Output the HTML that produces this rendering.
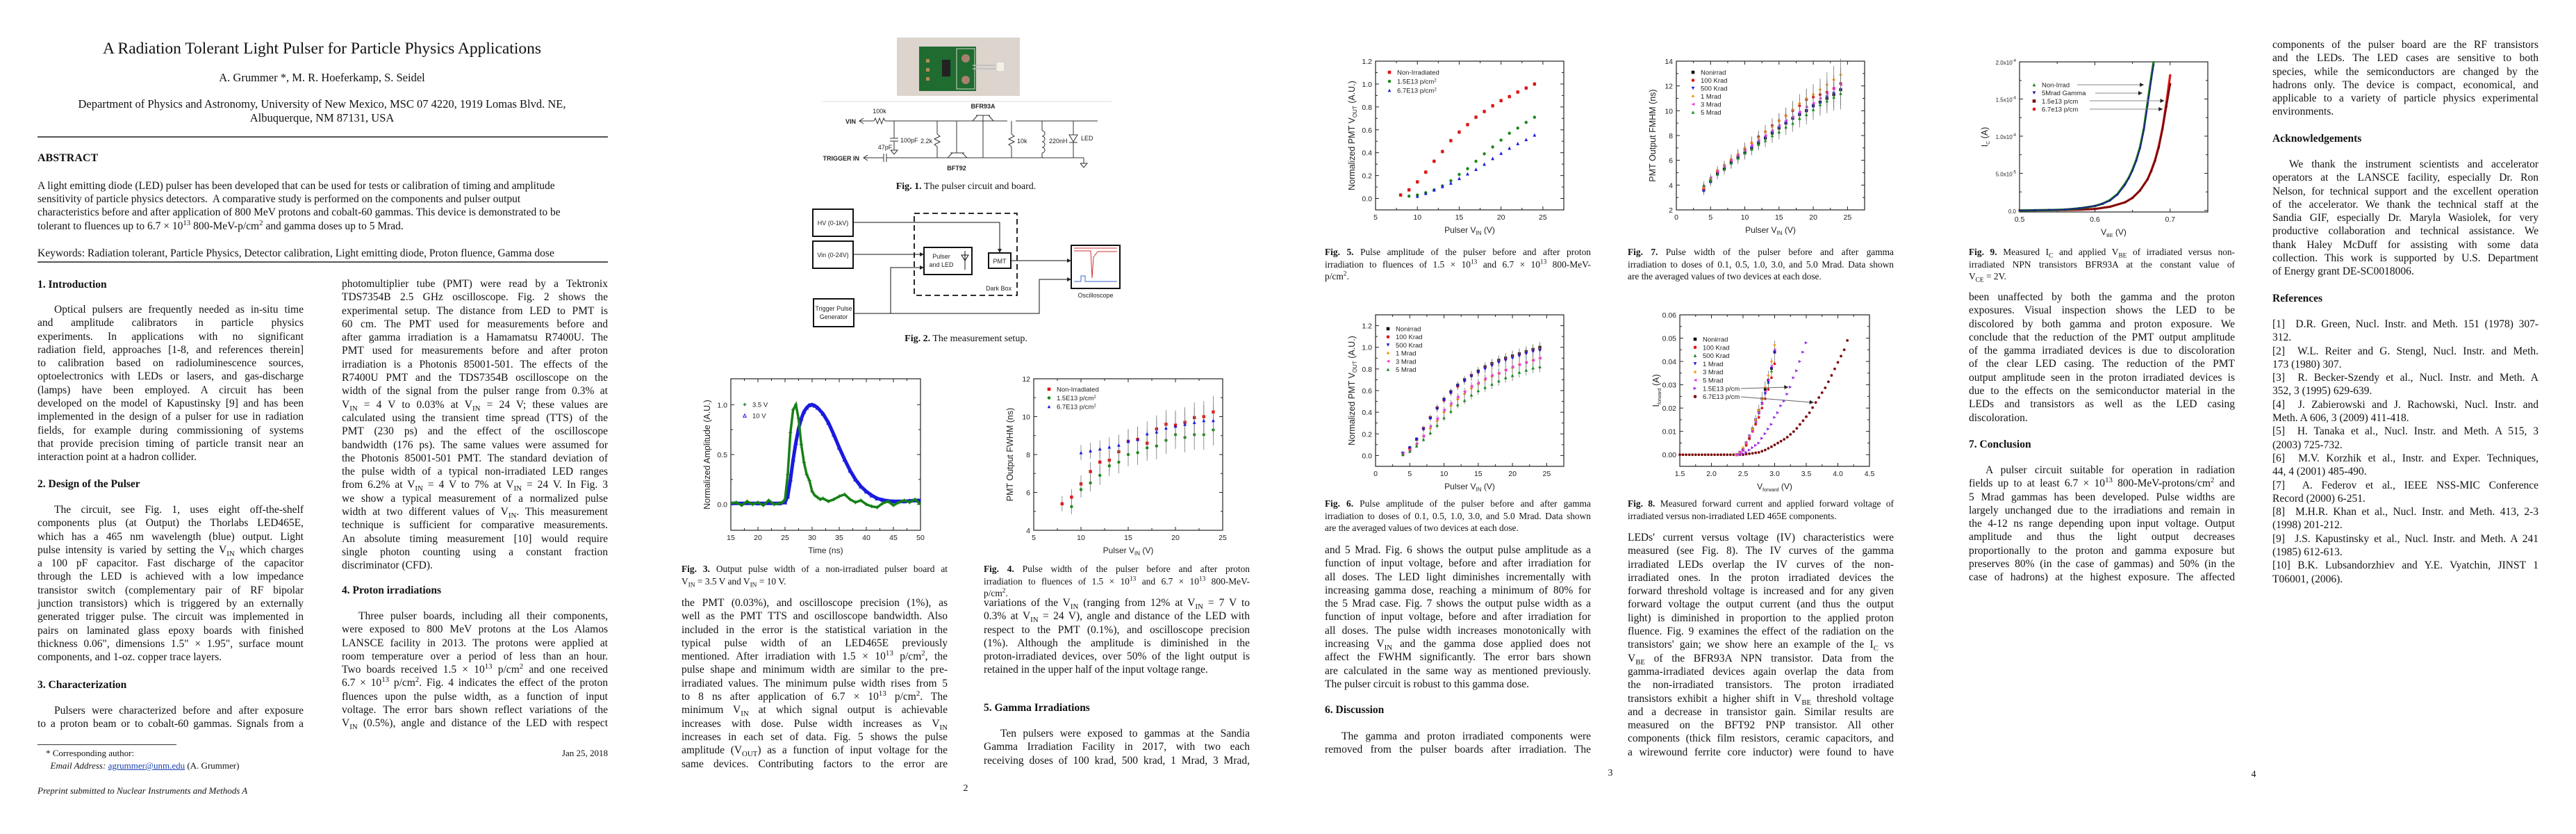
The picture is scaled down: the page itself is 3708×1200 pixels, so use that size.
<!DOCTYPE html>
<html><head><meta charset="utf-8">
<style>
html,body{margin:0;padding:0;background:#fff;}
body{width:3708px;height:1200px;position:relative;overflow:hidden;font-family:"Liberation Serif",serif;color:#111;}
.c{position:absolute;width:383px;font-size:15.5px;}
.c>div{height:19.3px;line-height:19.3px;white-space:nowrap;text-align:justify;text-align-last:justify;}
.c>div.e{text-align-last:left;}
.c>div.i{text-indent:24px;}
.h{position:absolute;font-size:15.5px;font-weight:bold;white-space:nowrap;line-height:19px;}
.cap{position:absolute;width:383px;font-size:13.4px;}
.cap>div{height:17.6px;line-height:17.6px;white-space:nowrap;text-align:justify;text-align-last:justify;}
.cap>div.e{text-align-last:left;}
.t{position:absolute;white-space:nowrap;line-height:20px;}
sub,sup{font-size:70%;line-height:0;}
.rule{position:absolute;height:2px;background:#555;}
svg{position:absolute;left:0;top:0;}
</style></head>
<body>
<div class="t" style="left:0;width:927px;text-align:center;top:56px;font-size:23.5px;line-height:28px;">A Radiation Tolerant Light Pulser for Particle Physics Applications</div>
<div class="t" style="left:0;width:927px;text-align:center;top:102px;font-size:16.5px;">A. Grummer *, M. R. Hoeferkamp, S. Seidel</div>
<div class="t" style="left:0;width:927px;text-align:center;top:140px;font-size:16.5px;">Department of Physics and Astronomy, University of New Mexico, MSC 07 4220, 1919 Lomas Blvd. NE,<br>Albuquerque, NM 87131, USA</div>
<div class="rule" style="left:54px;width:821px;top:196px;"></div>
<div class="h" style="left:54px;top:218px;font-size:16px;">ABSTRACT</div>
<div class="t" style="left:54px;top:258px;font-size:15.5px;line-height:19.2px;">A light emitting diode (LED) pulser has been developed that can be used for tests or calibration of timing and amplitude<br>sensitivity of particle physics detectors.&nbsp; A comparative study is performed on the components and pulser output<br>characteristics before and after application of 800 MeV protons and cobalt-60 gammas. This device is demonstrated to be<br>tolerant to fluences up to 6.7 × 10<sup>13</sup> 800-MeV-p/cm<sup>2</sup> and gamma doses up to 5 Mrad.</div>
<div class="t" style="left:54px;top:355px;font-size:15.5px;">Keywords: Radiation tolerant, Particle Physics, Detector calibration, Light emitting diode, Proton fluence, Gamma dose</div>
<div class="rule" style="left:54px;width:821px;top:376px;"></div>

<!-- Page 1 col 1 -->
<div class="h" style="left:54px;top:400px;">1. Introduction</div>
<div class="c" style="left:54px;top:436px;">
<div class="i">Optical pulsers are frequently needed as in-situ time</div>
<div>and amplitude calibrators in particle physics</div>
<div>experiments. In applications with no significant</div>
<div>radiation field, approaches [1-8, and references therein]</div>
<div>to calibration based on radioluminescence sources,</div>
<div>optoelectronics with LEDs or lasers, and gas-discharge</div>
<div>(lamps) have been employed. A circuit has been</div>
<div>developed on the model of Kapustinsky [9] and has been</div>
<div>implemented in the design of a pulser for use in radiation</div>
<div>fields, for example during commissioning of systems</div>
<div>that provide precision timing of particle transit near an</div>
<div class="e">interaction point at a hadron collider.</div>
</div>
<div class="h" style="left:54px;top:687px;">2. Design of the Pulser</div>
<div class="c" style="left:54px;top:724px;">
<div class="i">The circuit, see Fig. 1, uses eight off-the-shelf</div>
<div>components plus (at Output) the Thorlabs LED465E,</div>
<div>which has a 465 nm wavelength (blue) output. Light</div>
<div>pulse intensity is varied by setting the V<sub>IN</sub> which charges</div>
<div>a 100 pF capacitor. Fast discharge of the capacitor</div>
<div>through the LED is achieved with a low impedance</div>
<div>transistor switch (complementary pair of RF bipolar</div>
<div>junction transistors) which is triggered by an externally</div>
<div>generated trigger pulse. The circuit was implemented in</div>
<div>pairs on laminated glass epoxy boards with finished</div>
<div>thickness 0.06", dimensions 1.5" × 1.95", surface mount</div>
<div class="e">components, and 1-oz. copper trace layers.</div>
</div>
<div class="h" style="left:54px;top:976px;">3. Characterization</div>
<div class="c" style="left:54px;top:1013px;">
<div class="i">Pulsers were characterized before and after exposure</div>
<div>to a proton beam or to cobalt-60 gammas. Signals from a</div>
</div>
<div class="rule" style="left:54px;width:200px;top:1071px;height:1px;background:#333;"></div>
<div class="t" style="left:66px;top:1075px;font-size:13px;line-height:18px;">* Corresponding author:<br>&nbsp;&nbsp;<i>Email Address:</i> <span style="color:#1a3fb0;text-decoration:underline;">agrummer@unm.edu</span> (A. Grummer)</div>
<div class="t" style="left:775px;width:100px;text-align:right;top:1075px;font-size:13px;line-height:18px;">Jan 25, 2018</div>
<div class="t" style="left:54px;top:1129px;font-size:13px;font-style:italic;line-height:18px;">Preprint submitted to Nuclear Instruments and Methods A</div>

<!-- Page 1 col 2 -->
<div class="c" style="left:492px;top:399px;">
<div>photomultiplier tube (PMT) were read by a Tektronix</div>
<div>TDS7354B 2.5 GHz oscilloscope. Fig. 2 shows the</div>
<div>experimental setup. The distance from LED to PMT is</div>
<div>60 cm. The PMT used for measurements before and</div>
<div>after gamma irradiation is a Hamamatsu R7400U. The</div>
<div>PMT used for measurements before and after proton</div>
<div>irradiation is a Photonis 85001-501. The effects of the</div>
<div>R7400U PMT and the TDS7354B oscilloscope on the</div>
<div>width of the signal from the pulser range from 0.3% at</div>
<div>V<sub>IN</sub> = 4 V to 0.03% at V<sub>IN</sub> = 24 V; these values are</div>
<div>calculated using the transient time spread (TTS) of the</div>
<div>PMT (230 ps) and the effect of the oscilloscope</div>
<div>bandwidth (176 ps). The same values were assumed for</div>
<div>the Photonis 85001-501 PMT. The standard deviation of</div>
<div>the pulse width of a typical non-irradiated LED ranges</div>
<div>from 6.2% at V<sub>IN</sub> = 4 V to 7% at V<sub>IN</sub> = 24 V. In Fig. 3</div>
<div>we show a typical measurement of a normalized pulse</div>
<div>width at two different values of V<sub>IN</sub>. This measurement</div>
<div>technique is sufficient for comparative measurements.</div>
<div>An absolute timing measurement [10] would require</div>
<div>single photon counting using a constant fraction</div>
<div class="e">discriminator (CFD).</div>
</div>
<div class="h" style="left:492px;top:840px;">4. Proton irradiations</div>
<div class="c" style="left:492px;top:877px;">
<div class="i">Three pulser boards, including all their components,</div>
<div>were exposed to 800 MeV protons at the Los Alamos</div>
<div>LANSCE facility in 2013. The protons were applied at</div>
<div>room temperature over a period of less than an hour.</div>
<div>Two boards received 1.5 × 10<sup>13</sup> p/cm<sup>2</sup> and one received</div>
<div>6.7 × 10<sup>13</sup> p/cm<sup>2</sup>. Fig. 4 indicates the effect of the proton</div>
<div>fluences upon the pulse width, as a function of input</div>
<div>voltage. The error bars shown reflect variations of the</div>
<div>V<sub>IN</sub> (0.5%), angle and distance of the LED with respect</div>
</div>

<!-- Page 2 -->
<div class="t" style="left:927px;width:927px;text-align:center;top:259px;font-size:14px;"><b>Fig. 1.</b> The pulser circuit and board.</div>
<div class="t" style="left:927px;width:927px;text-align:center;top:478px;font-size:14px;"><b>Fig. 2.</b> The measurement setup.</div>
<div class="cap" style="left:981px;top:810px;">
<div><b>Fig. 3.</b> Output pulse width of a non-irradiated pulser board at</div>
<div class="e">V<sub>IN</sub> = 3.5 V and V<sub>IN</sub> = 10 V.</div>
</div>
<div class="cap" style="left:1416px;top:810px;">
<div><b>Fig. 4.</b> Pulse width of the pulser before and after proton</div>
<div>irradiation to fluences of 1.5 × 10<sup>13</sup> and 6.7 × 10<sup>13</sup> 800-MeV-</div>
<div class="e">p/cm<sup>2</sup>.</div>
</div>
<div class="c" style="left:981px;top:858px;">
<div>the PMT (0.03%), and oscilloscope precision (1%), as</div>
<div>well as the PMT TTS and oscilloscope bandwidth. Also</div>
<div>included in the error is the statistical variation in the</div>
<div>typical pulse width of an LED465E previously</div>
<div>mentioned. After irradiation with 1.5 × 10<sup>13</sup> p/cm<sup>2</sup>, the</div>
<div>pulse shape and minimum width are similar to the pre-</div>
<div>irradiated values. The minimum pulse width rises from 5</div>
<div>to 8 ns after application of 6.7 × 10<sup>13</sup> p/cm<sup>2</sup>. The</div>
<div>minimum V<sub>IN</sub> at which signal output is achievable</div>
<div>increases with dose. Pulse width increases as V<sub>IN</sub></div>
<div>increases in each set of data. Fig. 5 shows the pulse</div>
<div>amplitude (V<sub>OUT</sub>) as a function of input voltage for the</div>
<div>same devices. Contributing factors to the error are</div>
</div>
<div class="c" style="left:1416px;top:858px;">
<div>variations of the V<sub>IN</sub> (ranging from 12% at V<sub>IN</sub> = 7 V to</div>
<div>0.3% at V<sub>IN</sub> = 24 V), angle and distance of the LED with</div>
<div>respect to the PMT (0.1%), and oscilloscope precision</div>
<div>(1%). Although the amplitude is diminished in the</div>
<div>proton-irradiated devices, over 50% of the light output is</div>
<div class="e">retained in the upper half of the input voltage range.</div>
</div>
<div class="h" style="left:1416px;top:1009px;">5. Gamma Irradiations</div>
<div class="c" style="left:1416px;top:1046px;">
<div class="i">Ten pulsers were exposed to gammas at the Sandia</div>
<div>Gamma Irradiation Facility in 2017, with two each</div>
<div>receiving doses of 100 krad, 500 krad, 1 Mrad, 3 Mrad,</div>
</div>
<div class="t" style="left:1340px;width:100px;text-align:center;top:1125px;font-size:14px;">2</div>

<!-- Page 3 -->
<div class="cap" style="left:1907px;top:354px;">
<div><b>Fig. 5.</b> Pulse amplitude of the pulser before and after proton</div>
<div>irradiation to fluences of 1.5 × 10<sup>13</sup> and 6.7 × 10<sup>13</sup> 800-MeV-</div>
<div class="e">p/cm<sup>2</sup>.</div>
</div>
<div class="cap" style="left:2343px;top:354px;">
<div><b>Fig. 7.</b> Pulse width of the pulser before and after gamma</div>
<div>irradiation to doses of 0.1, 0.5, 1.0, 3.0, and 5.0 Mrad. Data shown</div>
<div class="e">are the averaged values of two devices at each dose.</div>
</div>
<div class="cap" style="left:1907px;top:716px;">
<div><b>Fig. 6.</b> Pulse amplitude of the pulser before and after gamma</div>
<div>irradiation to doses of 0.1, 0.5, 1.0, 3.0, and 5.0 Mrad. Data shown</div>
<div class="e">are the averaged values of two devices at each dose.</div>
</div>
<div class="cap" style="left:2343px;top:716px;">
<div><b>Fig. 8.</b> Measured forward current and applied forward voltage of</div>
<div class="e">irradiated versus non-irradiated LED 465E components.</div>
</div>
<div class="c" style="left:1907px;top:782px;">
<div>and 5 Mrad. Fig. 6 shows the output pulse amplitude as a</div>
<div>function of input voltage, before and after irradiation for</div>
<div>all doses. The LED light diminishes incrementally with</div>
<div>increasing gamma dose, reaching a minimum of 80% for</div>
<div>the 5 Mrad case. Fig. 7 shows the output pulse width as a</div>
<div>function of input voltage, before and after irradiation for</div>
<div>all doses. The pulse width increases monotonically with</div>
<div>increasing V<sub>IN</sub> and the gamma dose applied does not</div>
<div>affect the FWHM significantly. The error bars shown</div>
<div>are calculated in the same way as mentioned previously.</div>
<div class="e">The pulser circuit is robust to this gamma dose.</div>
</div>
<div class="h" style="left:1907px;top:1012px;">6. Discussion</div>
<div class="c" style="left:1907px;top:1050px;">
<div class="i">The gamma and proton irradiated components were</div>
<div>removed from the pulser boards after irradiation. The</div>
</div>
<div class="c" style="left:2343px;top:764px;">
<div>LEDs' current versus voltage (IV) characteristics were</div>
<div>measured (see Fig. 8). The IV curves of the gamma</div>
<div>irradiated LEDs overlap the IV curves of the non-</div>
<div>irradiated ones. In the proton irradiated devices the</div>
<div>forward threshold voltage is increased and for any given</div>
<div>forward voltage the output current (and thus the output</div>
<div>light) is diminished in proportion to the applied proton</div>
<div>fluence. Fig. 9 examines the effect of the radiation on the</div>
<div>transistors' gain; we show here an example of the I<sub>C</sub> vs</div>
<div>V<sub>BE</sub> of the BFR93A NPN transistor. Data from the</div>
<div>gamma-irradiated devices again overlap the data from</div>
<div>the non-irradiated transistors. The proton irradiated</div>
<div>transistors exhibit a higher shift in V<sub>BE</sub> threshold voltage</div>
<div>and a decrease in transistor gain. Similar results are</div>
<div>measured on the BFT92 PNP transistor. All other</div>
<div>components (thick film resistors, ceramic capacitors, and</div>
<div>a wirewound ferrite core inductor) were found to have</div>
</div>
<div class="t" style="left:2268px;width:100px;text-align:center;top:1103px;font-size:14px;">3</div>

<!-- Page 4 -->
<div class="cap" style="left:2834px;top:354px;">
<div><b>Fig. 9.</b> Measured I<sub>C</sub> and applied V<sub>BE</sub> of irradiated versus non-</div>
<div>irradiated NPN transistors BFR93A at the constant value of</div>
<div class="e">V<sub>CE</sub> = 2V.</div>
</div>
<div class="c" style="left:2834px;top:418px;">
<div>been unaffected by both the gamma and the proton</div>
<div>exposures. Visual inspection shows the LED to be</div>
<div>discolored by both gamma and proton exposure. We</div>
<div>conclude that the reduction of the PMT output amplitude</div>
<div>of the gamma irradiated devices is due to discoloration</div>
<div>of the clear LED casing. The reduction of the PMT</div>
<div>output amplitude seen in the proton irradiated devices is</div>
<div>due to the effects on the semiconductor material in the</div>
<div>LEDs and transistors as well as the LED casing</div>
<div class="e">discoloration.</div>
</div>
<div class="h" style="left:2834px;top:630px;">7. Conclusion</div>
<div class="c" style="left:2834px;top:667px;">
<div class="i">A pulser circuit suitable for operation in radiation</div>
<div>fields up to at least 6.7 × 10<sup>13</sup> 800-MeV-protons/cm<sup>2</sup> and</div>
<div>5 Mrad gammas has been developed. Pulse widths are</div>
<div>largely unchanged due to the irradiations and remain in</div>
<div>the 4-12 ns range depending upon input voltage. Output</div>
<div>amplitude and thus the light output decreases</div>
<div>proportionally to the proton and gamma exposure but</div>
<div>preserves 80% (in the case of gammas) and 50% (in the</div>
<div>case of hadrons) at the highest exposure. The affected</div>
</div>
<div class="c" style="left:3271px;top:55px;">
<div>components of the pulser board are the RF transistors</div>
<div>and the LEDs. The LED cases are sensitive to both</div>
<div>species, while the semiconductors are changed by the</div>
<div>hadrons only. The device is compact, economical, and</div>
<div>applicable to a variety of particle physics experimental</div>
<div class="e">environments.</div>
</div>
<div class="h" style="left:3271px;top:190px;">Acknowledgements</div>
<div class="c" style="left:3271px;top:227px;">
<div class="i">We thank the instrument scientists and accelerator</div>
<div>operators at the LANSCE facility, especially Dr. Ron</div>
<div>Nelson, for technical support and the excellent operation</div>
<div>of the accelerator. We thank the technical staff at the</div>
<div>Sandia GIF, especially Dr. Maryla Wasiolek, for very</div>
<div>productive collaboration and technical assistance. We</div>
<div>thank Haley McDuff for assisting with some data</div>
<div>collection. This work is supported by U.S. Department</div>
<div class="e">of Energy grant DE-SC0018006.</div>
</div>
<div class="h" style="left:3271px;top:420px;">References</div>
<div class="c" style="left:3271px;top:457px;">
<div>[1]&nbsp; D.R. Green, Nucl. Instr. and Meth. 151 (1978) 307-</div>
<div class="e">312.</div>
<div>[2]&nbsp; W.L. Reiter and G. Stengl, Nucl. Instr. and Meth.</div>
<div class="e">173 (1980) 307.</div>
<div>[3]&nbsp; R. Becker-Szendy et al., Nucl. Instr. and Meth. A</div>
<div class="e">352, 3 (1995) 629-639.</div>
<div>[4]&nbsp; J. Zabierowski and J. Rachowski, Nucl. Instr. and</div>
<div class="e">Meth. A 606, 3 (2009) 411-418.</div>
<div>[5]&nbsp; H. Tanaka et al., Nucl. Instr. and Meth. A 515, 3</div>
<div class="e">(2003) 725-732.</div>
<div>[6]&nbsp; M.V. Korzhik et al., Instr. and Exper. Techniques,</div>
<div class="e">44, 4 (2001) 485-490.</div>
<div>[7]&nbsp; A. Federov et al., IEEE NSS-MIC Conference</div>
<div class="e">Record (2000) 6-251.</div>
<div>[8]&nbsp; M.H.R. Khan et al., Nucl. Instr. and Meth. 413, 2-3</div>
<div class="e">(1998) 201-212.</div>
<div>[9]&nbsp; J.S. Kapustinsky et al., Nucl. Instr. and Meth. A 241</div>
<div class="e">(1985) 612-613.</div>
<div>[10] B.K. Lubsandorzhiev and Y.E. Vyatchin, JINST 1</div>
<div class="e">T06001, (2006).</div>
</div>
<div class="t" style="left:3194px;width:100px;text-align:center;top:1105px;font-size:14px;">4</div>

<svg id="figs" width="3708" height="1200" viewBox="0 0 3708 1200" font-family="Liberation Sans, sans-serif">
<defs>
<marker id="arr" viewBox="0 0 6 6" refX="6" refY="3" markerWidth="6" markerHeight="6" orient="auto"><path d="M0,0 L6,3 L0,6 z" fill="#222"/></marker>
<clipPath id="clip3"><rect x="1052" y="545" width="273" height="218"/></clipPath>
</defs>
<!-- Fig 1 photo -->
<g>
<rect x="1291" y="54" width="177" height="84" fill="#ddd5cd"/>
<rect x="1323" y="67" width="82" height="64" fill="#1f6b30"/>
<rect x="1377" y="70" width="26" height="58" fill="none" stroke="#cfd8c8" stroke-width="1"/>
<circle cx="1390" cy="84" r="6" fill="#a88070"/><circle cx="1390" cy="115" r="6" fill="#a88070"/>
<rect x="1333" y="85" width="5" height="5" fill="#b98a5a"/><rect x="1333" y="98" width="5" height="5" fill="#b98a5a"/><rect x="1333" y="111" width="5" height="5" fill="#b98a5a"/>
<rect x="1356" y="86" width="12" height="24" fill="#222"/>
<line x1="1400" y1="94" x2="1440" y2="94" stroke="#bbb" stroke-width="1.5"/><line x1="1400" y1="99" x2="1440" y2="99" stroke="#bbb" stroke-width="1.5"/>
<rect x="1434" y="89" width="12" height="14" rx="3" fill="#f4f0e4" stroke="#ccc"/>
</g>
<!-- Fig 1 circuit -->
<g stroke="#333" stroke-width="1" fill="none" font-size="9">
<line x1="1184" y1="146" x2="1600" y2="146" stroke="#ddd"/>
<text x="1232" y="178" text-anchor="end" fill="#222" stroke="none" font-weight="bold">VIN</text>
<polyline points="1243,170 1237,174 1243,178"/>
<line x1="1237" y1="174" x2="1258" y2="174"/>
<polyline points="1258,174 1260,170 1263,178 1266,170 1269,178 1272,170 1274,174"/>
<text x="1266" y="163" text-anchor="middle" fill="#222" stroke="none">100k</text>
<line x1="1274" y1="174" x2="1450" y2="174"/>
<line x1="1462" y1="174" x2="1580" y2="174"/>
<line x1="1287" y1="174" x2="1287" y2="199"/><line x1="1281" y1="199" x2="1293" y2="199"/><line x1="1281" y1="203" x2="1293" y2="203"/><line x1="1287" y1="203" x2="1287" y2="216"/>
<polyline points="1282,216 1292,216 1287,222 1282,216"/>
<text x="1296" y="205" fill="#222" stroke="none">100pF</text>
<line x1="1349" y1="174" x2="1349" y2="193"/><polyline points="1349,193 1353,196 1345,200 1353,204 1345,208 1349,211"/><line x1="1349" y1="211" x2="1349" y2="227"/>
<text x="1342" y="206" text-anchor="end" fill="#222" stroke="none">2.2k</text>
<line x1="1377" y1="174" x2="1377" y2="220"/>
<line x1="1405" y1="166" x2="1425" y2="166"/><line x1="1400" y1="174" x2="1407" y2="166"/><line x1="1430" y1="174" x2="1423" y2="166"/><line x1="1415" y1="166" x2="1415" y2="227"/>
<text x="1415" y="156" text-anchor="middle" fill="#222" stroke="none" font-weight="bold">BFR93A</text>
<line x1="1368" y1="220" x2="1388" y2="220"/><line x1="1364" y1="227" x2="1371" y2="220"/><line x1="1392" y1="227" x2="1385" y2="220"/>
<text x="1377" y="245" text-anchor="middle" fill="#222" stroke="none" font-weight="bold">BFT92</text>
<line x1="1456" y1="174" x2="1456" y2="193"/><polyline points="1456,193 1460,196 1452,200 1460,204 1452,208 1456,211"/><line x1="1456" y1="211" x2="1456" y2="227"/>
<text x="1464" y="206" fill="#222" stroke="none">10k</text>
<line x1="1500" y1="174" x2="1500" y2="188"/><path d="M1500,188 a4,4 0 0 1 0,8 a4,4 0 0 1 0,8 a4,4 0 0 1 0,8 a4,4 0 0 1 0,8"/><line x1="1500" y1="220" x2="1500" y2="227"/>
<text x="1510" y="206" fill="#222" stroke="none">220nH</text>
<line x1="1545" y1="174" x2="1545" y2="194"/><polygon points="1539,194 1551,194 1545,204"/><line x1="1539" y1="205" x2="1551" y2="205"/><line x1="1545" y1="205" x2="1545" y2="227"/>
<text x="1556" y="202" fill="#222" stroke="none">LED</text>
<line x1="1243" y1="227" x2="1272" y2="227"/><line x1="1272" y1="221" x2="1272" y2="233"/><line x1="1276" y1="221" x2="1276" y2="233"/><line x1="1276" y1="227" x2="1560" y2="227"/>
<polyline points="1249,223 1243,227 1249,231"/>
<text x="1237" y="231" text-anchor="end" fill="#222" stroke="none" font-weight="bold">TRIGGER IN</text>
<text x="1274" y="215" text-anchor="middle" fill="#222" stroke="none">47pF</text>
<line x1="1560" y1="227" x2="1560" y2="235"/><polyline points="1555,235 1565,235 1560,241 1555,235"/>
</g>
<!-- Fig 2 setup -->
<g stroke="#111" fill="none" font-size="9">
<rect x="1170" y="301" width="58" height="39" stroke-width="2"/><text x="1199" y="324" text-anchor="middle" fill="#222" stroke="none">HV (0-1kV)</text>
<rect x="1170" y="347" width="58" height="39" stroke-width="2"/><text x="1199" y="370" text-anchor="middle" fill="#222" stroke="none">Vin (0-24V)</text>
<rect x="1171" y="430" width="58" height="40" stroke-width="2"/><text x="1200" y="447" text-anchor="middle" fill="#222" stroke="none">Trigger Pulse</text><text x="1200" y="459" text-anchor="middle" fill="#222" stroke="none">Generator</text>
<rect x="1316" y="307" width="148" height="118" stroke-width="1.8" stroke-dasharray="8,5"/>
<text x="1456" y="418" text-anchor="end" fill="#222" stroke="none">Dark Box</text>
<rect x="1330" y="356" width="69" height="39" stroke-width="2"/><text x="1355" y="372" text-anchor="middle" fill="#222" stroke="none">Pulser</text><text x="1355" y="384" text-anchor="middle" fill="#222" stroke="none">and LED</text>
<polygon points="1384,367 1394,367 1389,375" stroke-width="1"/><line x1="1389" y1="361" x2="1389" y2="388"/>
<rect x="1423" y="364" width="32" height="22" stroke-width="2"/><text x="1439" y="379" text-anchor="middle" fill="#222" stroke="none">PMT</text>
<polyline points="1228,320 1439,320 1439,364" marker-end="url(#arr)"/>
<line x1="1228" y1="366" x2="1330" y2="366" marker-end="url(#arr)"/>
<polyline points="1229,451 1282,451 1282,385 1330,385" marker-end="url(#arr)"/>
<polyline points="1282,451 1496,451 1496,402 1542,402" marker-end="url(#arr)"/>
<line x1="1455" y1="375" x2="1542" y2="375" marker-end="url(#arr)"/>
<rect x="1542" y="353" width="70" height="62" stroke-width="2"/>
<polyline points="1546,357 1608,357" stroke="#d33" stroke-width="1"/>
<polyline points="1546,361 1568,361 1570,361 1572,400 1574,370 1580,362 1608,362" stroke="#c33" stroke-width="1"/>
<polyline points="1546,405 1556,405 1556,397 1562,397 1562,405 1608,405" stroke="#36c" stroke-width="1"/>
<text x="1577" y="428" text-anchor="middle" fill="#222" stroke="none">Oscilloscope</text>
</g>
</svg>

<script>
// ===== Fig 3 data =====
const f3TimeGreen = [15,16,17,18,19,20,21,22,23,24,24.5,25,25.5,26,26.5,27,27.5,28,28.5,29,29.5,30,30.5,31,31.5,32,33,34,35,36,37,38,39,40,41,42,43,44,45,46,47,48,49,50];
const f3Amp35V = [0.01,0.02,-0.01,0.03,0.0,0.02,-0.01,0.04,0.0,0.01,0.02,0.05,0.3,0.72,0.95,1.0,0.86,0.6,0.42,0.3,0.24,0.13,0.09,0.07,0.05,0.06,0.03,0.05,0.08,0.1,0.05,0.02,0.04,0.0,-0.02,-0.03,0.01,0.03,-0.01,0.02,0.04,0.02,0.05,0.0];
const f3TimeBlue = [15,20,24,25,25.5,26,26.5,27,27.5,28,28.5,29,29.5,30,30.5,31,32,33,34,35,36,37,38,39,40,41,42,43,44,45,46,47,48,49,50];
const f3Amp10V = [0.01,0.01,0.01,0.02,0.08,0.25,0.45,0.62,0.76,0.86,0.93,0.97,0.995,1.0,0.99,0.97,0.91,0.82,0.70,0.57,0.45,0.34,0.25,0.18,0.13,0.09,0.06,0.045,0.035,0.03,0.03,0.03,0.035,0.04,0.04];
const f3XTicks = [15,20,25,30,35,40,45,50];
const f3XTickLabels = ['15','20','25','30','35','40','45','50'];
const f3YTicks = [0,0.5,1.0];
const f3YTickLabels = ['0.0','0.5','1.0'];
// ===== Fig 4 data =====
const f4VinNon = [8,9,10,11,12,13,14,15,16,17,18,19,20,21,22,23,24];
const f4FwhmNon = [5.4,5.75,6.45,7.1,7.6,7.7,8.15,8.7,8.8,8.6,9.35,9.6,9.55,9.7,9.95,10.0,10.25];
const f4VinP15 = [9,10,11,12,13,14,15,16,17,18,19,20,21,22,23,24];
const f4FwhmP15 = [5.25,6.15,6.5,6.9,7.4,7.6,8.0,8.1,8.35,8.45,8.75,9.05,8.9,9.05,9.05,9.3];
const f4VinP67 = [10,11,12,13,14,15,16,17,18,19,20,21,22,23,24];
const f4FwhmP67 = [8.1,8.2,8.3,8.4,8.5,8.7,8.8,9.1,9.2,9.4,9.5,9.6,9.7,9.8,9.8];
const f4Err = [0.4,0.42,0.45,0.5,0.55,0.6,0.62,0.65,0.68,0.7,0.72,0.75,0.78,0.8,0.8,0.82,0.85];
const f4XTicks = [5,10,15,20,25];
const f4XTickLabels = ['5','10','15','20','25'];
const f4YTicks = [4,6,8,10,12];
const f4YTickLabels = ['4','6','8','10','12'];
// ===== Fig 5 data =====
const f5VinNon = [8,9,10,11,12,13,14,15,16,17,18,19,20,21,22,23,24];
const f5AmpNon = [0.03,0.075,0.145,0.23,0.325,0.41,0.505,0.58,0.645,0.71,0.76,0.81,0.855,0.89,0.93,0.965,1.0];
const f5VinP15 = [9,10,11,12,13,14,15,16,17,18,19,20,21,22,23,24];
const f5AmpP15 = [0.02,0.03,0.05,0.075,0.11,0.155,0.21,0.26,0.325,0.39,0.45,0.51,0.57,0.615,0.665,0.71];
const f5VinP67 = [10,11,12,13,14,15,16,17,18,19,20,21,22,23,24];
const f5AmpP67 = [0.02,0.045,0.075,0.105,0.135,0.175,0.215,0.255,0.3,0.35,0.395,0.44,0.48,0.515,0.555];
const f5XTicks = [5,10,15,20,25];
const f5XTickLabels = ['5','10','15','20','25'];
const f5YTicks = [0,0.2,0.4,0.6,0.8,1.0,1.2];
const f5YTickLabels = ['0.0','0.2','0.4','0.6','0.8','1.0','1.2'];
// ===== Fig 6 / Fig 7 shared Vin =====
const gVin = [4,5,6,7,8,9,10,11,12,13,14,15,16,17,18,19,20,21,22,23,24];
// Fig 6 amplitudes
const f6Nonirrad = [0.02,0.07,0.15,0.25,0.35,0.44,0.52,0.59,0.65,0.70,0.74,0.78,0.82,0.85,0.88,0.90,0.92,0.94,0.96,0.98,1.0];
const f6Krad100 = [0.02,0.06,0.15,0.25,0.35,0.44,0.51,0.58,0.64,0.69,0.74,0.77,0.81,0.84,0.87,0.89,0.91,0.93,0.95,0.97,0.98];
const f6Krad500 = [0.02,0.07,0.15,0.24,0.34,0.43,0.51,0.58,0.64,0.69,0.73,0.77,0.80,0.83,0.86,0.88,0.90,0.92,0.94,0.96,0.97];
const f6Mrad1 = [0.01,0.05,0.10,0.18,0.25,0.32,0.40,0.46,0.52,0.57,0.62,0.66,0.70,0.73,0.76,0.79,0.81,0.84,0.86,0.88,0.90];
const f6Mrad3 = [0.02,0.05,0.11,0.18,0.27,0.34,0.42,0.48,0.54,0.59,0.64,0.67,0.71,0.74,0.76,0.79,0.82,0.84,0.86,0.88,0.90];
const f6Mrad5 = [0.01,0.04,0.09,0.15,0.21,0.28,0.35,0.41,0.47,0.51,0.56,0.60,0.63,0.66,0.69,0.72,0.74,0.77,0.79,0.81,0.82];
const f6Err = [0.02,0.02,0.02,0.025,0.025,0.03,0.03,0.03,0.035,0.035,0.04,0.04,0.04,0.045,0.045,0.045,0.05,0.05,0.05,0.05,0.05];
const f6XTicks = [0,5,10,15,20,25];
const f6XTickLabels = ['0','5','10','15','20','25'];
const f6YTicks = [0,0.2,0.4,0.6,0.8,1.0,1.2];
const f6YTickLabels = ['0.0','0.2','0.4','0.6','0.8','1.0','1.2'];
// Fig 7 widths
const f7Nonirrad = [3.6,4.3,4.9,5.3,5.8,6.2,6.6,7.0,7.4,7.8,8.2,8.6,9.0,9.4,9.7,10.0,10.4,10.7,11.0,11.3,11.7];
const f7Krad100 = [3.7,4.4,5.1,5.6,6.0,6.4,6.9,7.4,7.9,8.3,8.8,9.2,9.6,10.0,10.4,10.9,11.1,11.3,11.5,11.8,12.2];
const f7Krad500 = [3.5,4.2,4.8,5.2,5.7,6.1,6.5,7.0,7.4,7.8,8.2,8.6,9.0,9.3,9.7,10.0,10.3,10.6,11.1,11.4,11.7];
const f7Mrad1 = [3.8,4.5,5.2,5.6,6.1,6.5,7.0,7.4,7.8,8.3,8.7,9.2,9.6,10.1,10.6,11.0,11.3,11.7,12.1,12.5,12.9];
const f7Mrad3 = [3.9,4.6,5.1,5.5,6.0,6.4,6.8,7.2,7.6,8.0,8.4,8.8,9.2,9.5,9.9,10.3,10.6,11.0,11.4,11.8,12.1];
const f7Mrad5 = [4.0,4.4,4.9,5.3,5.8,6.2,6.6,6.9,7.3,7.6,8.0,8.3,8.7,9.0,9.4,9.7,10.1,10.5,10.8,11.1,11.4];
const f7Err = [0.3,0.3,0.35,0.35,0.4,0.4,0.45,0.5,0.5,0.55,0.6,0.6,0.65,0.7,0.75,0.8,0.85,0.9,1.0,1.1,1.3];
const f7XTicks = [0,5,10,15,20,25];
const f7XTickLabels = ['0','5','10','15','20','25'];
const f7YTicks = [2,4,6,8,10,12,14];
const f7YTickLabels = ['2','4','6','8','10','12','14'];
// ===== Fig 8 data =====
const f8VfGamma = [2.4,2.45,2.5,2.55,2.6,2.65,2.7,2.75,2.8,2.85,2.9,2.95,3.0];
const f8Nonirrad = [0,0.001,0.002,0.005,0.007,0.011,0.015,0.019,0.024,0.028,0.032,0.037,0.044];
const f8Krad100 = [0,0.001,0.002,0.004,0.007,0.010,0.013,0.016,0.020,0.024,0.028,0.033,0.039];
const f8Krad500 = [0,0.001,0.003,0.005,0.008,0.011,0.014,0.018,0.022,0.027,0.031,0.036,0.045];
const f8Mrad1 = [0,0.001,0.002,0.005,0.008,0.011,0.015,0.018,0.022,0.026,0.031,0.037,0.044];
const f8Mrad3 = [0,0.001,0.003,0.005,0.008,0.011,0.015,0.019,0.024,0.029,0.034,0.040,0.047];
const f8Mrad5 = [0,0.001,0.002,0.005,0.008,0.010,0.014,0.018,0.022,0.027,0.032,0.038,0.045];
const f8VfP15 = [2.45,2.5,2.55,2.6,2.65,2.7,2.75,2.8,2.85,2.9,2.95,3.0,3.05,3.1,3.15,3.2,3.25,3.3,3.35,3.4,3.45,3.5];
const f8P15 = [0,0.0005,0.001,0.002,0.003,0.004,0.005,0.007,0.009,0.011,0.013,0.016,0.018,0.021,0.023,0.026,0.029,0.033,0.036,0.040,0.044,0.048];
const f8VfP67 = [1.5,1.55,1.6,1.65,1.7,1.75,1.8,1.85,1.9,1.95,2.0,2.05,2.1,2.15,2.2,2.25,2.3,2.35,2.4,2.45,2.5,2.55,2.6,2.65,2.7,2.75,2.8,2.85,2.9,2.95,3.0,3.05,3.1,3.15,3.2,3.25,3.3,3.35,3.4,3.45,3.5,3.55,3.6,3.65,3.7,3.75,3.8,3.85,3.9,3.95,4.0,4.05,4.1,4.15];
const f8P67 = [0,0,0,0,0,0,0,0,0,0,0,0,0,0,0,0,0,0,0,0,0,0.0002,0.0004,0.0006,0.0008,0.001,0.0015,0.002,0.0027,0.0034,0.0042,0.005,0.0058,0.0066,0.0075,0.0087,0.0099,0.0113,0.013,0.0146,0.0163,0.018,0.0202,0.0224,0.0245,0.0266,0.0287,0.0313,0.034,0.0368,0.0396,0.0423,0.045,0.049];
const f8XTicks = [1.5,2.0,2.5,3.0,3.5,4.0,4.5];
const f8XTickLabels = ['1.5','2.0','2.5','3.0','3.5','4.0','4.5'];
const f8YTicks = [0,0.01,0.02,0.03,0.04,0.05,0.06];
const f8YTickLabels = ['0.00','0.01','0.02','0.03','0.04','0.05','0.06'];
// ===== Fig 9 data (IC in units of 1e-4 A) =====
const f9VbeGamma = [0.5,0.52,0.54,0.56,0.58,0.6,0.61,0.62,0.63,0.64,0.645,0.65,0.655,0.66,0.665,0.67,0.675,0.678];
const f9NonIrrad = [0,0.003,0.006,0.012,0.03,0.06,0.09,0.14,0.22,0.36,0.44,0.55,0.68,0.85,1.1,1.45,1.8,2.0];
const f9Gamma5M = [0,0.003,0.006,0.012,0.03,0.06,0.09,0.13,0.21,0.34,0.43,0.53,0.66,0.83,1.07,1.4,1.75,1.95];
const f9VbeProton = [0.5,0.52,0.54,0.56,0.58,0.6,0.62,0.64,0.65,0.66,0.67,0.675,0.68,0.685,0.69,0.695,0.7];
const f9P15 = [0,0.002,0.004,0.007,0.012,0.02,0.05,0.11,0.17,0.27,0.42,0.53,0.67,0.85,1.1,1.4,1.7];
const f9P67 = [0,0.002,0.004,0.007,0.012,0.02,0.05,0.11,0.17,0.27,0.42,0.54,0.68,0.87,1.12,1.45,1.82];
const f9XTicks = [0.5,0.6,0.7];
const f9XTickLabels = ['0.5','0.6','0.7'];
const f9YTicks = [0,0.5,1.0,1.5,2.0];
const f9YTickLabels = ['0.0','5.0x10<tspan dy="-4" font-size="6">-5</tspan>','1.0x10<tspan dy="-4" font-size="6">-4</tspan>','1.5x10<tspan dy="-4" font-size="6">-4</tspan>','2.0x10<tspan dy="-4" font-size="6">-4</tspan>'];

const NS = 'http://www.w3.org/2000/svg';
const SVG = document.getElementById('figs');
function mk(tag, attrs, parent) {
  const e = document.createElementNS(NS, tag);
  for (const k in attrs) e.setAttribute(k, attrs[k]);
  (parent || SVG).appendChild(e);
  return e;
}
function axes(name, fr, xd, yd, xt, xtl, yt, ytl, xlab, ylab, yfs) {
  const g = mk('g', {});
  
  
  const sx = v => fr.x + (v - xd[0]) / (xd[1] - xd[0]) * fr.w;
  const sy = v => fr.y + fr.h - (v - yd[0]) / (yd[1] - yd[0]) * fr.h;
  mk('rect', {x: fr.x, y: fr.y, width: fr.w, height: fr.h, fill: 'none', stroke: '#222', 'stroke-width': 1.2}, g);
  const B = fr.y + fr.h, R = fr.x + fr.w;
  xt.forEach((v, i) => {
    const X = sx(v);
    mk('line', {x1: X, x2: X, y1: B, y2: B - 5, stroke: '#222'}, g);
    mk('line', {x1: X, x2: X, y1: fr.y, y2: fr.y + 5, stroke: '#222'}, g);
    const t = mk('text', {x: X, y: B + 14, 'text-anchor': 'middle', 'font-size': 10.5, fill: '#222'}, g);
    t.textContent = xtl[i];
    if (i < xt.length - 1) {
      const M = sx((v + xt[i + 1]) / 2);
      mk('line', {x1: M, x2: M, y1: B, y2: B - 3, stroke: '#222'}, g);
      mk('line', {x1: M, x2: M, y1: fr.y, y2: fr.y + 3, stroke: '#222'}, g);
    }
  });
  yt.forEach((v, i) => {
    const Y = sy(v);
    mk('line', {x1: fr.x, x2: fr.x + 5, y1: Y, y2: Y, stroke: '#222'}, g);
    mk('line', {x1: R, x2: R - 5, y1: Y, y2: Y, stroke: '#222'}, g);
    const t = mk('text', {x: fr.x - 5, y: Y + 4, 'text-anchor': 'end', 'font-size': yfs || 10.5, fill: '#222'}, g);
    t.innerHTML = ytl[i];
    if (i < yt.length - 1) {
      const M = sy((v + yt[i + 1]) / 2);
      mk('line', {x1: fr.x, x2: fr.x + 3, y1: M, y2: M, stroke: '#222'}, g);
      mk('line', {x1: R, x2: R - 3, y1: M, y2: M, stroke: '#222'}, g);
    }
  });
  const xl = mk('text', {x: fr.x + fr.w / 2, y: B + 33, 'text-anchor': 'middle', 'font-size': 12, fill: '#222'}, g);
  xl.innerHTML = xlab;
  const cy = fr.y + fr.h / 2, cx = fr.x - (yfs ? 46 : 30);
  const yl = mk('text', {x: cx, y: cy, 'text-anchor': 'middle', 'font-size': 12.5, fill: '#222', transform: 'rotate(-90 ' + cx + ' ' + cy + ')'}, g);
  yl.innerHTML = ylab;
  return {g: g, sx: sx, sy: sy};
}
function marker(g, shape, x, y, c, s) {
  if (shape === 'sq') return mk('rect', {x: x - s, y: y - s, width: 2 * s, height: 2 * s, fill: c}, g);
  if (shape === 'ci') return mk('circle', {cx: x, cy: y, r: s, fill: c}, g);
  if (shape === 'tu') return mk('polygon', {points: (x - s) + ',' + (y + s) + ' ' + (x + s) + ',' + (y + s) + ' ' + x + ',' + (y - s), fill: c}, g);
  if (shape === 'td') return mk('polygon', {points: (x - s) + ',' + (y - s) + ' ' + (x + s) + ',' + (y - s) + ' ' + x + ',' + (y + s), fill: c}, g);
  if (shape === 'tl') return mk('polygon', {points: (x + s) + ',' + (y - s) + ' ' + (x + s) + ',' + (y + s) + ' ' + (x - s) + ',' + y, fill: c}, g);
  if (shape === 'tr') return mk('polygon', {points: (x - s) + ',' + (y - s) + ' ' + (x - s) + ',' + (y + s) + ' ' + (x + s) + ',' + y, fill: c}, g);
  if (shape === 'di') return mk('polygon', {points: x + ',' + (y - s) + ' ' + (x + s) + ',' + y + ' ' + x + ',' + (y + s) + ' ' + (x - s) + ',' + y, fill: c}, g);
  if (shape === 'pl') { mk('line', {x1: x - s, x2: x + s, y1: y, y2: y, stroke: c, 'stroke-width': 1.3}, g); return mk('line', {x1: x, x2: x, y1: y - s, y2: y + s, stroke: c, 'stroke-width': 1.3}, g); }
  if (shape === 'to') return mk('polygon', {points: (x - s) + ',' + (y + s) + ' ' + (x + s) + ',' + (y + s) + ' ' + x + ',' + (y - s), fill: 'none', stroke: c, 'stroke-width': 1}, g);
}
function series(ax, name, xs, ys, errs, shape, color, size, line) {
  const g = mk('g', {}, ax.g);
  
  
  if (line) {
    const pts = xs.map((x, i) => ax.sx(x).toFixed(1) + ',' + ax.sy(ys[i]).toFixed(1)).join(' ');
    mk('polyline', {points: pts, fill: 'none', stroke: color, 'stroke-width': line}, g);
  }
  xs.forEach((x, i) => {
    const X = ax.sx(x), Y = ax.sy(ys[i]);
    if (errs) {
      const e = errs[i] !== undefined ? errs[i] : errs[errs.length - 1];
      mk('line', {x1: X, x2: X, y1: ax.sy(ys[i] - e), y2: ax.sy(ys[i] + e), stroke: '#777', 'stroke-width': 0.8}, g);
    }
    marker(g, shape, X, Y, color, size);
  });
  return g;
}
function legend(ax, name, x, y, dy, entries) {
  const g = mk('g', {}, ax.g);
  
  
  entries.forEach((en, i) => {
    const Y = y + i * dy;
    marker(g, en[1], x, Y, en[2], 2.3);
    const t = mk('text', {x: x + 11, y: Y + 3.5, 'font-size': 9.5, fill: '#222'}, g);
    t.innerHTML = en[0];
  });
}

// Fig 3
const a3 = axes('fig3-pulse-chart', {x: 1052, y: 545, w: 273, h: 218}, [15, 50], [-0.26, 1.26], f3XTicks, f3XTickLabels, f3YTicks, f3YTickLabels, 'Time (ns)', 'Normalized Amplitude (A.U.)');
const s3b = series(a3, 'series-10v', f3TimeBlue, f3Amp10V, null, 'to', '#1a1ae0', 2.4, 5);
s3b.setAttribute('clip-path', 'url(#clip3)');
const s3g = series(a3, 'series-3-5v', f3TimeGreen, f3Amp35V, null, 'pl', '#178017', 2.6, 3.5);
s3g.setAttribute('clip-path', 'url(#clip3)');
legend(a3, 'fig3-legend', 1072, 582, 16, [['3.5 V', 'pl', '#178017'], ['10 V', 'to', '#1a1ae0']]);

// Fig 4
const a4 = axes('fig4-fwhm-proton-chart', {x: 1488, y: 545, w: 272, h: 218}, [5, 25], [4, 12], f4XTicks, f4XTickLabels, f4YTicks, f4YTickLabels, 'Pulser V<tspan dy="3" font-size="8">IN</tspan><tspan dy="-3"> (V)</tspan>', 'PMT Output FWHM (ns)');
series(a4, 'series-non-irradiated', f4VinNon, f4FwhmNon, f4Err, 'sq', '#e01515', 2.2);
series(a4, 'series-1-5e13', f4VinP15, f4FwhmP15, f4Err, 'ci', '#1a8a1a', 2.2);
series(a4, 'series-6-7e13', f4VinP67, f4FwhmP67, f4Err, 'tu', '#1a1ae0', 2.4);
legend(a4, 'fig4-legend', 1510, 560, 12.5, [['Non-Irradiated', 'sq', '#e01515'], ['1.5E13 p/cm<tspan dy="-3" font-size="6">2</tspan>', 'ci', '#1a8a1a'], ['6.7E13 p/cm<tspan dy="-3" font-size="6">2</tspan>', 'tu', '#1a1ae0']]);

// Fig 5
const a5 = axes('fig5-amplitude-proton-chart', {x: 1980, y: 88, w: 271, h: 214}, [5, 27.5], [-0.1, 1.2], f5XTicks, f5XTickLabels, f5YTicks, f5YTickLabels, 'Pulser V<tspan dy="3" font-size="8">IN</tspan><tspan dy="-3"> (V)</tspan>', 'Normalized PMT V<tspan dy="3" font-size="8">OUT</tspan><tspan dy="-3"> (A.U.)</tspan>');
series(a5, 'series-non-irradiated', f5VinNon, f5AmpNon, [0.018], 'sq', '#e01515', 2.2);
series(a5, 'series-1-5e13', f5VinP15, f5AmpP15, [0.015], 'ci', '#1a8a1a', 2.2);
series(a5, 'series-6-7e13', f5VinP67, f5AmpP67, [0.012], 'tu', '#1a1ae0', 2.4);
legend(a5, 'fig5-legend', 2000, 104, 13, [['Non-Irradiated', 'sq', '#e01515'], ['1.5E13 p/cm<tspan dy="-3" font-size="6">2</tspan>', 'ci', '#1a8a1a'], ['6.7E13 p/cm<tspan dy="-3" font-size="6">2</tspan>', 'tu', '#1a1ae0']]);

// Fig 7
const a7 = axes('fig7-fwhm-gamma-chart', {x: 2413, y: 88, w: 271, h: 214}, [0, 27.5], [2, 14], f7XTicks, f7XTickLabels, f7YTicks, f7YTickLabels, 'Pulser V<tspan dy="3" font-size="8">IN</tspan><tspan dy="-3"> (V)</tspan>', 'PMT Output FMHM (ns)');
series(a7, 'series-nonirrad', gVin, f7Nonirrad, f7Err, 'sq', '#111', 2.1);
series(a7, 'series-100-krad', gVin, f7Krad100, f7Err, 'ci', '#e01515', 2.1);
series(a7, 'series-500-krad', gVin, f7Krad500, f7Err, 'td', '#1a1ae0', 2.3);
series(a7, 'series-1-mrad', gVin, f7Mrad1, f7Err, 'di', '#f59a1a', 2.4);
series(a7, 'series-3-mrad', gVin, f7Mrad3, f7Err, 'tl', '#f030e8', 2.3);
series(a7, 'series-5-mrad', gVin, f7Mrad5, f7Err, 'tu', '#1a8a1a', 2.3);
legend(a7, 'fig7-legend', 2437, 104, 11.5, [['Nonirrad', 'sq', '#111'], ['100 Krad', 'ci', '#e01515'], ['500 Krad', 'td', '#1a1ae0'], ['1 Mrad', 'di', '#f59a1a'], ['3 Mrad', 'tl', '#f030e8'], ['5 Mrad', 'tu', '#1a8a1a']]);

// Fig 6
const a6 = axes('fig6-amplitude-gamma-chart', {x: 1980, y: 453, w: 271, h: 218}, [0, 27.5], [-0.1, 1.3], f6XTicks, f6XTickLabels, f6YTicks, f6YTickLabels, 'Pulser V<tspan dy="3" font-size="8">IN</tspan><tspan dy="-3"> (V)</tspan>', 'Normalized PMT V<tspan dy="3" font-size="8">OUT</tspan><tspan dy="-3"> (A.U.)</tspan>');
series(a6, 'series-nonirrad', gVin, f6Nonirrad, f6Err, 'sq', '#111', 2.1);
series(a6, 'series-100-krad', gVin, f6Krad100, f6Err, 'ci', '#e01515', 2.1);
series(a6, 'series-500-krad', gVin, f6Krad500, f6Err, 'td', '#1a1ae0', 2.3);
series(a6, 'series-1-mrad', gVin, f6Mrad1, f6Err, 'di', '#f59a1a', 2.4);
series(a6, 'series-3-mrad', gVin, f6Mrad3, f6Err, 'tl', '#f030e8', 2.3);
series(a6, 'series-5-mrad', gVin, f6Mrad5, f6Err, 'tu', '#1a8a1a', 2.3);
legend(a6, 'fig6-legend', 1998, 473, 11.7, [['Nonirrad', 'sq', '#111'], ['100 Krad', 'ci', '#e01515'], ['500 Krad', 'td', '#1a1ae0'], ['1 Mrad', 'di', '#f59a1a'], ['3 Mrad', 'tl', '#f030e8'], ['5 Mrad', 'tu', '#1a8a1a']]);

// Fig 8
const a8 = axes('fig8-iv-led-chart', {x: 2418, y: 453, w: 273, h: 218}, [1.5, 4.5], [-0.005, 0.06], f8XTicks, f8XTickLabels, f8YTicks, f8YTickLabels, 'V<tspan dy="3" font-size="7">forward</tspan><tspan dy="-3"> (V)</tspan>', 'I<tspan dy="3" font-size="7">forward</tspan><tspan dy="-3"> (A)</tspan>');
series(a8, 'series-6-7e13', f8VfP67, f8P67, null, 'ci', '#7a0a0a', 1.9);
series(a8, 'series-1-5e13', f8VfP15, f8P15, null, 'tr', '#9a2ee6', 2.2);
series(a8, 'series-nonirrad', f8VfGamma, f8Nonirrad, [0, 0.0005, 0.0008, 0.001, 0.0012, 0.0015, 0.002, 0.0025, 0.003, 0.0035, 0.004, 0.0045, 0.005], 'sq', '#111', 1.9);
series(a8, 'series-100-krad', f8VfGamma, f8Krad100, null, 'ci', '#e01515', 1.9);
series(a8, 'series-500-krad', f8VfGamma, f8Krad500, null, 'tu', '#1a8a1a', 2.1);
series(a8, 'series-1-mrad', f8VfGamma, f8Mrad1, null, 'td', '#1a1ae0', 2.1);
series(a8, 'series-3-mrad', f8VfGamma, f8Mrad3, null, 'di', '#f59a1a', 2.2);
series(a8, 'series-5-mrad', f8VfGamma, f8Mrad5, null, 'tl', '#f030e8', 2.1);
legend(a8, 'fig8-legend', 2440, 488, 11.8, [['Nonirrad', 'sq', '#111'], ['100 Krad', 'ci', '#e01515'], ['500 Krad', 'tu', '#1a8a1a'], ['1 Mrad', 'td', '#1a1ae0'], ['3 Mrad', 'di', '#f59a1a'], ['5 Mrad', 'tl', '#f030e8'], ['1.5E13 p/cm', 'tr', '#9a2ee6'], ['6.7E13 p/cm', 'ci', '#7a0a0a']]);
mk('line', {x1: 2506, y1: 559, x2: a8.sx(f8VfP15[16]) - 3, y2: a8.sy(f8P15[16]), stroke: '#666', 'marker-end': 'url(#arr)'}, a8.g);
mk('line', {x1: 2506, y1: 571, x2: a8.sx(f8VfP67[43]) - 3, y2: a8.sy(f8P67[43]), stroke: '#666', 'marker-end': 'url(#arr)'}, a8.g);

// Fig 9
const a9 = axes('fig9-transistor-chart', {x: 2907, y: 89, w: 271, h: 216}, [0.5, 0.75], [-0.02, 2.0], f9XTicks, f9XTickLabels, f9YTicks, f9YTickLabels, 'V<tspan dy="3" font-size="7">BE</tspan><tspan dy="-3"> (V)</tspan>', 'I<tspan dy="3" font-size="7">C</tspan><tspan dy="-3"> (A)</tspan>', 8);
series(a9, 'series-6-7e13', f9VbeProton, f9P67, null, 'ci', '#e01515', 1.6, 3.2);
series(a9, 'series-1-5e13', f9VbeProton, f9P15, null, 'sq', '#7a0a0a', 1.5, 2.6);
series(a9, 'series-non-irrad', f9VbeGamma, f9NonIrrad, null, 'tu', '#1a7a1a', 1.8, 3.2);
series(a9, 'series-5mrad-gamma', f9VbeGamma, f9Gamma5M, null, 'td', '#1a1a9a', 1.6, 1.6);
legend(a9, 'fig9-legend', 2928, 122, 11.7, [['Non-Irrad', 'tu', '#1a7a1a'], ['5Mrad Gamma', 'td', '#1a1a9a'], ['1.5e13 p/cm', 'sq', '#7a0a0a'], ['6.7e13 p/cm', 'ci', '#e01515']]);
mk('line', {x1: 2990, y1: 122, x2: a9.sx(0.668) - 3, y2: 122, stroke: '#888', 'marker-end': 'url(#arr)'}, a9.g);
mk('line', {x1: 3016, y1: 134, x2: a9.sx(0.666) - 3, y2: 134, stroke: '#888', 'marker-end': 'url(#arr)'}, a9.g);
mk('line', {x1: 3008, y1: 145, x2: a9.sx(0.695) - 3, y2: 145, stroke: '#888', 'marker-end': 'url(#arr)'}, a9.g);
mk('line', {x1: 3008, y1: 157, x2: a9.sx(0.693) - 3, y2: 157, stroke: '#888', 'marker-end': 'url(#arr)'}, a9.g);
</script>
</body></html>
